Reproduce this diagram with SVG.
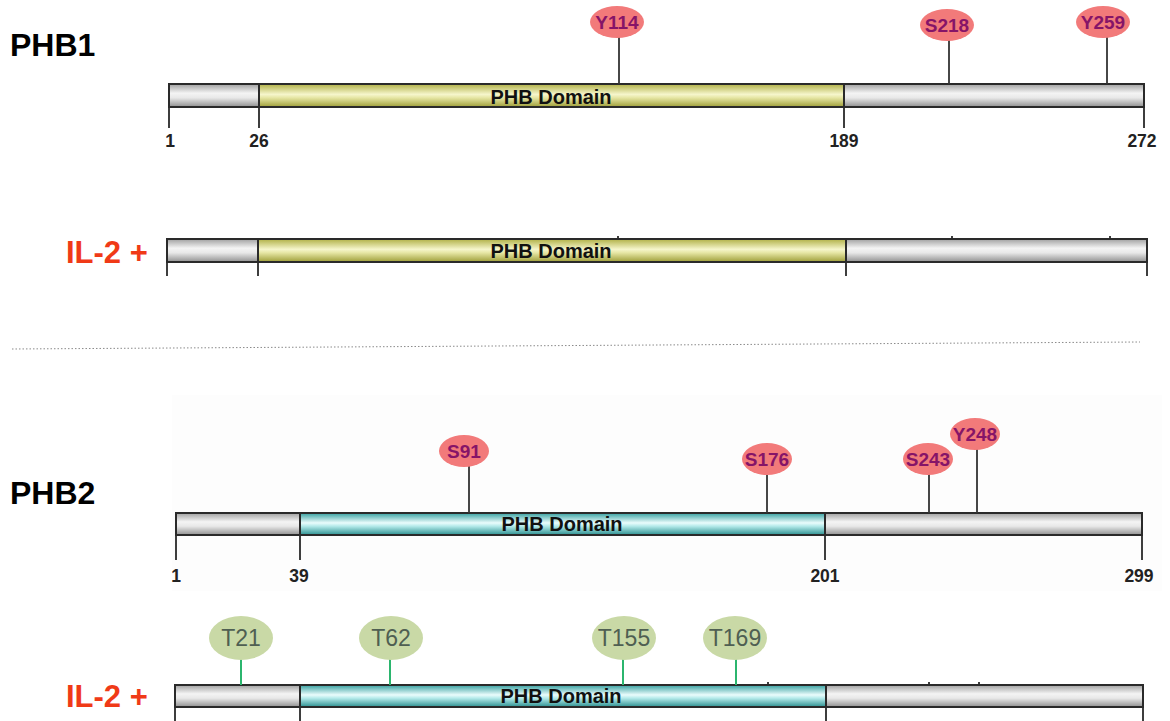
<svg xmlns="http://www.w3.org/2000/svg" width="1170" height="721" viewBox="0 0 1170 721">
<defs>
<linearGradient id="gGray" x1="0" y1="0" x2="0" y2="1">
<stop offset="0" stop-color="#a0a0a0"/><stop offset="0.4" stop-color="#f4f4f4"/><stop offset="0.6" stop-color="#e8e8e8"/><stop offset="1" stop-color="#909090"/>
</linearGradient>
<linearGradient id="gYel" x1="0" y1="0" x2="0" y2="1">
<stop offset="0" stop-color="#b0b046"/><stop offset="0.45" stop-color="#f6f6cc"/><stop offset="0.6" stop-color="#e6e6a4"/><stop offset="1" stop-color="#9e9e38"/>
</linearGradient>
<linearGradient id="gCyan" x1="0" y1="0" x2="0" y2="1">
<stop offset="0" stop-color="#36a0a0"/><stop offset="0.45" stop-color="#eafcfc"/><stop offset="0.6" stop-color="#b4eaea"/><stop offset="1" stop-color="#2c9090"/>
</linearGradient>
<style>
.bar{stroke:#2a2a2a;stroke-width:2}
.tick{stroke:#2a2a2a;stroke-width:1.8;fill:none}
.pin{stroke:#333;stroke-width:1.8}
.gpin{stroke:#2bb56e;stroke-width:2}
.dom{font-family:"Liberation Sans",Arial,sans-serif;font-weight:bold;font-size:20px;fill:#111;text-anchor:middle}
.num{font-family:"Liberation Sans",Arial,sans-serif;font-weight:bold;font-size:17.5px;fill:#222;text-anchor:middle}
.title{font-family:"Liberation Sans",Arial,sans-serif;font-weight:bold;font-size:32px;fill:#000}
.il{font-family:"Liberation Sans",Arial,sans-serif;font-weight:bold;font-size:31px;fill:#f03a17}
.pk{fill:#f27a7a}
.pkt{font-family:"Liberation Sans",Arial,sans-serif;font-weight:bold;font-size:19px;fill:#861468;text-anchor:middle}
.gr{fill:#c9d9a6}
.grt{font-family:"Liberation Sans",Arial,sans-serif;font-size:23px;fill:#4f5f52;text-anchor:middle}
</style>
</defs>
<rect width="1170" height="721" fill="#fff"/>
<rect x="172" y="395" width="990" height="196" fill="#fdfdfd"/>

<text class="title" x="10" y="56">PHB1</text>
<text class="title" x="10" y="504">PHB2</text>
<text class="il" x="66" y="263">IL-2 +</text>
<text class="il" x="66" y="707">IL-2 +</text>

<line x1="12" y1="349" x2="1140" y2="342" stroke="#8a8a8a" stroke-width="1" stroke-dasharray="1.5,2"/>

<g id="phb1">
<rect class="bar" x="169" y="84" width="90" height="23" fill="url(#gGray)"/>
<rect class="bar" x="259" y="84" width="585" height="23" fill="url(#gYel)"/>
<rect class="bar" x="844" y="84" width="300" height="23" fill="url(#gGray)"/>
<path class="tick" d="M169 107V128M259 107V128M844 107V128M1144 107V128"/>
<text class="dom" x="551" y="104">PHB Domain</text>
<text class="num" x="170" y="147">1</text>
<text class="num" x="259" y="147">26</text>
<text class="num" x="844" y="147">189</text>
<text class="num" x="1142" y="147">272</text>
</g>

<g id="phb1-il2">
<rect class="bar" x="167" y="239" width="91" height="23" fill="url(#gGray)"/>
<rect class="bar" x="258" y="239" width="588" height="23" fill="url(#gYel)"/>
<rect class="bar" x="846" y="239" width="301" height="23" fill="url(#gGray)"/>
<path class="tick" d="M167 262V276M258 262V276M846 262V276M1147 262V276"/>
<path class="tick" stroke-width="1.2" d="M618 236V239M952 236V239M1110 236V239"/>
<text class="dom" x="551" y="258">PHB Domain</text>
</g>

<g id="phb2">
<rect class="bar" x="176" y="513" width="124" height="22" fill="url(#gGray)"/>
<rect class="bar" x="300" y="513" width="525" height="22" fill="url(#gCyan)"/>
<rect class="bar" x="825" y="513" width="317" height="22" fill="url(#gGray)"/>
<path class="tick" d="M176 535V560M300 535V560M825 535V560M1142 535V560"/>
<text class="dom" x="562" y="531">PHB Domain</text>
<text class="num" x="176" y="582">1</text>
<text class="num" x="299" y="582">39</text>
<text class="num" x="825" y="582">201</text>
<text class="num" x="1139" y="582">299</text>
</g>

<g id="phb2-il2">
<rect class="bar" x="175" y="685" width="125" height="22" fill="url(#gGray)"/>
<rect class="bar" x="300" y="685" width="526" height="22" fill="url(#gCyan)"/>
<rect class="bar" x="826" y="685" width="317" height="22" fill="url(#gGray)"/>
<path class="tick" d="M175 707V721M300 707V721M826 707V721M1143 707V721"/>
<path class="tick" stroke-width="1.2" d="M768 682V685M929 682V685M979 682V685"/>
<text class="dom" x="561" y="703">PHB Domain</text>
</g>

<g id="connectors">
<line class="pin" x1="619" y1="37" x2="619" y2="84"/>
<line class="pin" x1="949" y1="40" x2="949" y2="84"/>
<line class="pin" x1="1107" y1="37" x2="1107" y2="84"/>
<line class="pin" x1="469" y1="466" x2="469" y2="513"/>
<line class="pin" x1="767" y1="474" x2="767" y2="513"/>
<line class="pin" x1="929" y1="474" x2="929" y2="513"/>
<line class="pin" x1="977" y1="449" x2="977" y2="513"/>
<line class="gpin" x1="241" y1="659" x2="241" y2="685"/>
<line class="gpin" x1="390" y1="659" x2="390" y2="685"/>
<line class="gpin" x1="623" y1="659" x2="623" y2="685"/>
<line class="gpin" x1="736" y1="659" x2="736" y2="685"/>
</g>

<g id="site-Y114"><ellipse class="pk" cx="617" cy="22" rx="27" ry="16"/><text class="pkt" x="617" y="29">Y114</text></g>
<g id="site-S218"><ellipse class="pk" cx="947" cy="25" rx="27" ry="16"/><text class="pkt" x="947" y="32">S218</text></g>
<g id="site-Y259"><ellipse class="pk" cx="1103" cy="22" rx="27" ry="16"/><text class="pkt" x="1103" y="29">Y259</text></g>
<g id="site-S91"><ellipse class="pk" cx="464" cy="451" rx="25" ry="16"/><text class="pkt" x="464" y="458">S91</text></g>
<g id="site-S176"><ellipse class="pk" cx="767" cy="459" rx="25" ry="16"/><text class="pkt" x="767" y="466">S176</text></g>
<g id="site-S243"><ellipse class="pk" cx="928" cy="459" rx="25" ry="16"/><text class="pkt" x="928" y="466">S243</text></g>
<g id="site-Y248"><ellipse class="pk" cx="975" cy="434" rx="25" ry="16"/><text class="pkt" x="975" y="441">Y248</text></g>

<g id="site-T21"><ellipse class="gr" cx="241" cy="638" rx="32" ry="22"/><text class="grt" x="241" y="646">T21</text></g>
<g id="site-T62"><ellipse class="gr" cx="391" cy="638" rx="32" ry="22"/><text class="grt" x="391" y="646">T62</text></g>
<g id="site-T155"><ellipse class="gr" cx="624" cy="638" rx="32" ry="22"/><text class="grt" x="624" y="646">T155</text></g>
<g id="site-T169"><ellipse class="gr" cx="735" cy="638" rx="32" ry="22"/><text class="grt" x="735" y="646">T169</text></g>
</svg>
